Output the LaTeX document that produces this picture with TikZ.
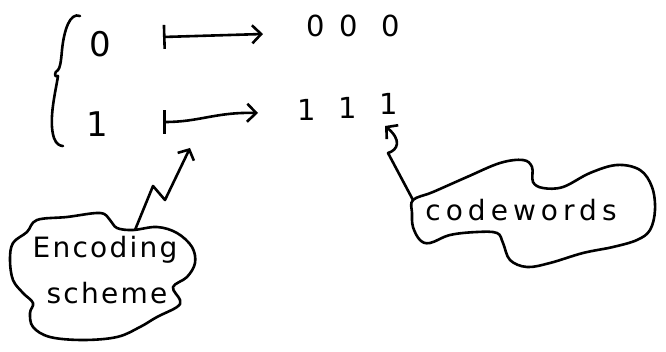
\documentclass[tikz,border=0pt]{standalone}
\usepackage{fontspec}
\setmainfont{DejaVu Sans}
\usetikzlibrary{arrows.meta}
\begin{document}
\begin{tikzpicture}[x=1pt,y=-1pt,line cap=round,line join=round,
  ink/.style={line width=2.6pt},
  digit/.style={font=\fontsize{34}{36}\selectfont,inner sep=0pt},
  smalldigit/.style={font=\fontsize{29}{30}\selectfont,inner sep=0pt},
  word/.style={inner sep=0pt,font=\fontsize{28}{30}\selectfont\addfontfeatures{LetterSpace=8}},
  mapsto/.style={ink,{Bar[width=24pt,line width=2.6pt]}-{Straight Barb[length=9pt,width=18pt,line width=2.6pt]}},
  pointer/.style={ink,-{Straight Barb[length=8pt,width=18pt,line width=2.6pt]}}]
\useasboundingbox (0,0) rectangle (666,352);
% brace
\draw[ink] (80,16) .. controls (70,12) and (64,30) .. (62,50)
  .. controls (61,62) and (60,68) .. (58,70)
  .. controls (54,72) and (54,78) .. (58,76)
  .. controls (56,90) and (48,120) .. (54,138)
  .. controls (56,144) and (60,146) .. (63,146);
% left digits
\node[digit] (s0) at (100,44) {0};
\node[digit] (s1) at (97,124) {1};
% codeword digits
\node[smalldigit] (c01) at (316,26) {0};
\node[smalldigit] (c02) at (349,26) {0};
\node[smalldigit] (c03) at (391,26) {0};
\node[smalldigit] (c11) at (307,110) {1};
\node[smalldigit] (c12) at (348,108) {1};
\node[smalldigit] (c13) at (389,104) {1};
% maps-to arrows
\coordinate (m0s) at (163,37);
\coordinate (m0e) at (263,34);
\coordinate (m1s) at (163,122);
\coordinate (m1e) at (258,113);
\draw[mapsto] (m0s) -- (m0e);
\draw[mapsto] (m1s) .. controls (200,122) and (215,112) .. (m1e);
% clouds
\draw[ink] plot[smooth cycle,tension=0.6] coordinates {
 (37,220) (67,217) (100,213) (110,220) (117,228) (133,230) (157,227)
 (177,233) (192,247) (195,263) (187,277) (173,287) (180,300) (177,307)
 (157,317) (140,327) (117,337) (83,340) (50,337) (33,327) (30,313)
 (33,303) (23,293) (13,280) (10,260) (13,243) (27,232)};
\node[word] (enc) at (105,250) {Encoding};
\node[word] (sch) at (107,293) {scheme};
\coordinate (encTop) at (135,230);
\draw[ink] plot[smooth cycle,tension=0.6] coordinates {
 (413,200) (433,192) (467,177) (500,163) (523,160) (532,167) (533,182)
 (543,188) (563,187) (590,173) (617,165) (640,170) (652,187) (655,210)
 (650,230) (637,240) (613,247) (583,253) (550,263) (527,267) (510,260)
 (503,243) (497,233) (477,232) (450,235) (430,243) (420,240) (413,227)
 (412,213)};
\node[inner sep=0pt,font=\fontsize{28}{30}\selectfont\addfontfeatures{LetterSpace=18}] (cw) at (521,210) {codewords};
\coordinate (cwTop) at (413,200);
% pointers
\coordinate (encTip) at (190,148);
\draw[pointer] (encTop) -- (153,186) -- (165,200) -- (encTip);
\coordinate (cwTip) at (385,126);
\draw[pointer] (cwTop) -- (388,153) .. controls (398,150) and (402,140) .. (cwTip);
\end{tikzpicture}
\end{document}
